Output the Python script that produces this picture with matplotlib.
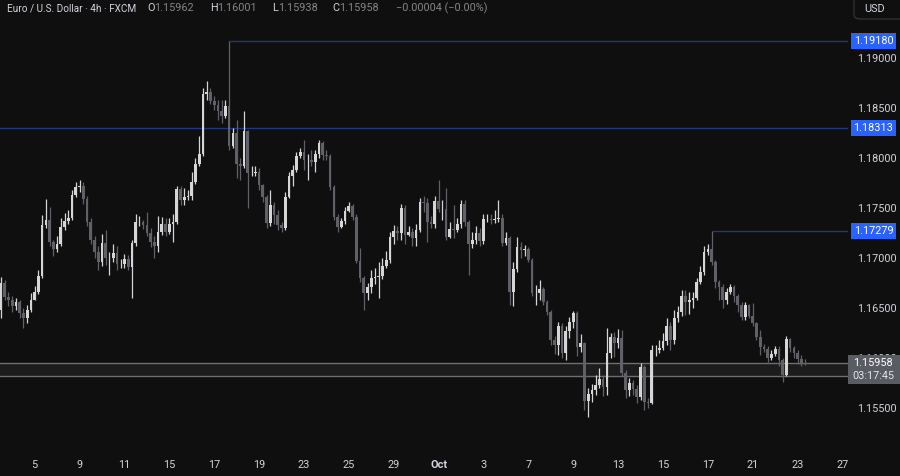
import matplotlib
matplotlib.use("Agg")
import matplotlib.pyplot as plt
import matplotlib.transforms as mtransforms
from matplotlib.patches import Rectangle, FancyBboxPatch
import numpy as np

plt.rcParams['font.family'] = ['Roboto', 'DejaVu Sans']

# ---------------- data (EUR/USD 4h, FXCM) ----------------
open_first = 1.1649
closes = [
    1.1676, 1.1662, 1.1659, 1.1653, 1.1657, 1.1646, 1.1641, 1.1649, 1.1659, 1.1667,
    1.1683, 1.1734, 1.1739, 1.1717, 1.1710, 1.1715, 1.1732, 1.1738, 1.1741, 1.1764,
    1.1772, 1.1773, 1.1760, 1.1737, 1.1719, 1.1707, 1.1697, 1.1716, 1.1701, 1.1701,
    1.1706, 1.1695, 1.1695, 1.1700, 1.1692, 1.1716, 1.1737, 1.1737, 1.1734, 1.1726,
    1.1717, 1.1713, 1.1727, 1.1735, 1.1727, 1.1735,
    1.1737, 1.1770, 1.1759, 1.1762, 1.1763, 1.1777, 1.1795, 1.1805, 1.1865, 1.1867,
    1.1858, 1.1854, 1.1848, 1.1843, 1.1853, 1.1813, 1.1826, 1.1795, 1.1793, 1.1828,
    1.1786, 1.1786, 1.1787, 1.1774, 1.1762, 1.1736, 1.1754, 1.1744, 1.1734, 1.1731,
    1.1762, 1.1783, 1.1789, 1.1803, 1.1807, 1.1799, 1.1799, 1.1797, 1.1805, 1.1816,
    1.1804, 1.1803, 1.1772, 1.1742,
    1.1732, 1.1738, 1.1748, 1.1753, 1.1742, 1.1698, 1.1681, 1.1666, 1.1672, 1.1681,
    1.1682, 1.1683, 1.1693, 1.1699, 1.1722, 1.1728, 1.1726, 1.1751, 1.1724, 1.1727,
    1.1721, 1.1729, 1.1757, 1.1756, 1.1737, 1.1735, 1.1758, 1.1750, 1.1750, 1.1722,
    1.1730, 1.1729, 1.1735, 1.1755, 1.1737, 1.1715, 1.1719, 1.1726, 1.1718, 1.1740,
    1.1740, 1.1739, 1.1740, 1.1741,
    1.1716, 1.1721, 1.1667, 1.1690, 1.1712, 1.1709, 1.1710, 1.1699, 1.1666, 1.1666,
    1.1670, 1.1657, 1.1647, 1.1619, 1.1614, 1.1633, 1.1606, 1.1628, 1.1637, 1.1646,
    1.1612, 1.1616, 1.1558, 1.1565, 1.1569, 1.1574, 1.1580, 1.1572, 1.1606, 1.1622,
    1.1616, 1.1621, 1.1586, 1.1569, 1.1576, 1.1570, 1.1562, 1.1592, 1.1557, 1.1556,
    1.1609, 1.1609, 1.1611, 1.1618,
    1.1633, 1.1619, 1.1641, 1.1647, 1.1663, 1.1657, 1.1659, 1.1661, 1.1677, 1.1687,
    1.1707, 1.1710, 1.1697, 1.1677, 1.1672, 1.1659, 1.1667, 1.1672, 1.1663, 1.1654,
    1.1642, 1.1654, 1.1643, 1.1636, 1.1622, 1.1612, 1.1610, 1.1601, 1.1605, 1.1610,
    1.1599, 1.1584, 1.1620, 1.1611, 1.1606, 1.1600, 1.15962, 1.15958,
]
highs = [
    1.1682, 1.1679, 1.1667, 1.1663, 1.1661, 1.1659, 1.1651, 1.1654, 1.1666, 1.1673,
    1.1689, 1.1744, 1.1760, 1.1752, 1.1719, 1.1723, 1.1741, 1.1746, 1.1749, 1.1769,
    1.1777, 1.1779, 1.1777, 1.1763, 1.1741, 1.1723, 1.1713, 1.1725, 1.1729, 1.1707,
    1.1715, 1.1713, 1.1700, 1.1705, 1.1704, 1.1719, 1.1745, 1.1743, 1.1739, 1.1747,
    1.1731, 1.1723, 1.1743, 1.1742, 1.1741, 1.1741,
    1.1745, 1.1773, 1.1773, 1.1771, 1.1769, 1.1787, 1.1801, 1.1823, 1.1871, 1.1878,
    1.1871, 1.1863, 1.1859, 1.1859, 1.1859, 1.1918, 1.1831, 1.1839, 1.1801, 1.1848,
    1.1829, 1.1793, 1.1793, 1.1791, 1.1775, 1.1764, 1.1769, 1.1757, 1.1749, 1.1737,
    1.1767, 1.1787, 1.1794, 1.1807, 1.1811, 1.1819, 1.1805, 1.1809, 1.1809, 1.1819,
    1.1818, 1.1809, 1.1805, 1.1774,
    1.1745, 1.1741, 1.1752, 1.1757, 1.1755, 1.1745, 1.1711, 1.1683, 1.1676, 1.1689,
    1.1691, 1.1697, 1.1701, 1.1708, 1.1727, 1.1734, 1.1733, 1.1755, 1.1754, 1.1733,
    1.1731, 1.1735, 1.1761, 1.1763, 1.1761, 1.1743, 1.1763, 1.1779, 1.1759, 1.1771,
    1.1737, 1.1754, 1.1741, 1.1759, 1.1759, 1.1739, 1.1727, 1.1733, 1.1731, 1.1745,
    1.1745, 1.1745, 1.1749, 1.1759,
    1.1745, 1.1727, 1.1723, 1.1697, 1.1722, 1.1717, 1.1714, 1.1712, 1.1701, 1.1674,
    1.1679, 1.1672, 1.1659, 1.1649, 1.1623, 1.1637, 1.1636, 1.1633, 1.1642, 1.1648,
    1.1648, 1.1625, 1.1617, 1.1571, 1.1575, 1.1584, 1.1591, 1.1584, 1.1631, 1.1626,
    1.1627, 1.1630, 1.1629, 1.1589, 1.1581, 1.1579, 1.1574, 1.1596, 1.1594, 1.1561,
    1.1614, 1.1614, 1.1619, 1.1626,
    1.1641, 1.1637, 1.1649, 1.1653, 1.1669, 1.1669, 1.1667, 1.1667, 1.1681, 1.1693,
    1.1713, 1.1715, 1.17279, 1.1699, 1.1679, 1.1675, 1.1671, 1.1675, 1.1674, 1.1665,
    1.1657, 1.1657, 1.1655, 1.1656, 1.1637, 1.1629, 1.1615, 1.1613, 1.1609, 1.1613,
    1.1613, 1.1601, 1.1623, 1.1621, 1.1613, 1.1609, 1.1604, 1.16001,
]
lows = [
    1.1641, 1.1659, 1.1653, 1.1647, 1.1649, 1.1641, 1.1631, 1.1636, 1.1647, 1.1659,
    1.1665, 1.1681, 1.1731, 1.1713, 1.1703, 1.1707, 1.1713, 1.1729, 1.1735, 1.1739,
    1.1762, 1.1767, 1.1755, 1.1733, 1.1715, 1.1701, 1.1689, 1.1693, 1.1694, 1.1684,
    1.1697, 1.1689, 1.1691, 1.1691, 1.1689, 1.1661, 1.1713, 1.1733, 1.1730, 1.1723,
    1.1712, 1.1701, 1.1707, 1.1724, 1.1723, 1.1725,
    1.1717, 1.1735, 1.1754, 1.1754, 1.1759, 1.1759, 1.1775, 1.1793, 1.1803, 1.1859,
    1.1855, 1.1849, 1.1839, 1.1836, 1.1841, 1.1809, 1.1811, 1.1781, 1.1779, 1.1791,
    1.1751, 1.1783, 1.1783, 1.1769, 1.1757, 1.1731, 1.1733, 1.1735, 1.1729, 1.1727,
    1.1729, 1.1761, 1.1773, 1.1787, 1.1801, 1.1789, 1.1779, 1.1793, 1.1787, 1.1801,
    1.1799, 1.1799, 1.1769, 1.1739,
    1.1727, 1.1731, 1.1735, 1.1747, 1.1739, 1.1696, 1.1677, 1.1649, 1.1659, 1.1666,
    1.1675, 1.1661, 1.1680, 1.1691, 1.1696, 1.1715, 1.1719, 1.1719, 1.1715, 1.1723,
    1.1713, 1.1713, 1.1727, 1.1747, 1.1717, 1.1731, 1.1731, 1.1747, 1.1739, 1.1719,
    1.1721, 1.1721, 1.1727, 1.1731, 1.1733, 1.1684, 1.1711, 1.1715, 1.1713, 1.1715,
    1.1737, 1.1735, 1.1736, 1.1737,
    1.1713, 1.1714, 1.1654, 1.1653, 1.1687, 1.1701, 1.1703, 1.1697, 1.1663, 1.1654,
    1.1659, 1.1654, 1.1644, 1.1614, 1.1605, 1.1604, 1.1601, 1.1599, 1.1621, 1.1631,
    1.1603, 1.1607, 1.1549, 1.1542, 1.1557, 1.1564, 1.1571, 1.1563, 1.1564, 1.1601,
    1.1602, 1.1611, 1.1583, 1.1561, 1.1563, 1.1564, 1.1556, 1.1559, 1.1549, 1.1551,
    1.1555, 1.1603, 1.1606, 1.1609,
    1.1614, 1.1609, 1.1615, 1.1637, 1.1643, 1.1644, 1.1645, 1.1651, 1.1659, 1.1675,
    1.1684, 1.1704, 1.1694, 1.1671, 1.1659, 1.1651, 1.1655, 1.1665, 1.1657, 1.1647,
    1.1639, 1.1639, 1.1641, 1.1633, 1.1619, 1.1604, 1.1607, 1.1597, 1.1599, 1.1603,
    1.1593, 1.1577, 1.1583, 1.1607, 1.1601, 1.1595, 1.1593, 1.15938,
]

date_labels = ["5", "9", "11", "15", "17", "19", "23", "25", "29", "Oct",
               "3", "7", "9", "13", "15", "17", "21", "23", "27"]
first_label_bar = 9
bars_per_label = 12

price_ticks = [1.19, 1.185, 1.18, 1.175, 1.17, 1.165, 1.16, 1.155]
level_prices = [1.19180, 1.18313, 1.17279]
zone_low = 1.15827
last_open, last_high, last_low, last_close = 1.15962, 1.16001, 1.15938, 1.15958
countdown = "03:17:45"

# ---------------- style ----------------
BG = '#0f0f0f'
UP = '#d6d6d6'
DOWN = '#5f6068'
LEVEL = '#22377a'
LABEL_BLUE = '#2962ff'
TXT = '#d1d4dc'
W, H = 900, 476

fig = plt.figure(figsize=(9, 4.76), dpi=100, facecolor=BG)
ax = fig.add_axes([0, 28 / H, 848 / W, 448 / H])
ax.set_facecolor(BG)
bar_px = 3.74
x0 = -1 / bar_px
ax.set_xlim(x0, x0 + 848 / bar_px)
ax.set_ylim(1.1511, 1.1959)
ax.axis('off')

c = np.array(closes)
h = np.array(highs)
l = np.array(lows)
o = np.concatenate([[open_first], c[:-1]])
n = len(c)
x = np.arange(n)
up = c >= o
cols = np.where(up, UP, DOWN)

# zone (band) under the candles
xl = ax.get_xlim()
ax.add_patch(Rectangle((xl[0], zone_low), xl[1] - xl[0], last_close - zone_low,
                       facecolor='#1c1c1c', edgecolor='none', zorder=1))
ax.axhline(last_close, color='#6e6e6e', lw=1, zorder=2)
ax.axhline(zone_low, color='#6e6e6e', lw=1, zorder=2)

# level lines
for lv in level_prices:
    if lv in highs:
        start = highs.index(lv)
        ax.plot([start, xl[1]], [lv, lv], color=LEVEL, lw=1, zorder=2,
                solid_capstyle='butt')
    else:
        ax.axhline(lv, color=LEVEL, lw=1, zorder=2)

# candles
ax.vlines(x, l, h, colors=cols, lw=0.9, zorder=3)
body_bottom = np.minimum(o, c)
body_h = np.maximum(np.abs(c - o), 0.000012)
ax.bar(x, body_h, bottom=body_bottom, width=0.72, color=cols, linewidth=0, zorder=4)

# ---------------- price axis ----------------
tf = mtransforms.blended_transform_factory(fig.transFigure, ax.transData)
box_top_px = 355
for p in price_ticks:
    t = fig.text(857 / W, p, f"{p:.5f}", transform=tf, color=TXT, fontsize=7.8,
                 ha='left', va='center')
    if abs(p - last_close) < 0.0008:
        # partly hidden behind the current-price box, as in the reference
        t.set_clip_box(mtransforms.Bbox.from_extents(840, H - box_top_px, W, H))
        t.set_clip_on(True)

for lv in level_prices:
    fig.text(873.5 / W, lv, f"{lv:.5f}", transform=tf, color='white', fontsize=7.8,
             ha='center', va='center',
             bbox=dict(boxstyle='square,pad=0.28', facecolor=LABEL_BLUE, edgecolor='none'))

# current price box
fig.patches.append(Rectangle((848 / W, 1 - 384 / H), 52 / W, 29 / H, transform=fig.transFigure,
                             facecolor='#5a5c63', edgecolor='none', zorder=5))
fig.text(873 / W, 1 - 362.5 / H, f"{last_close:.5f}", color='white', fontsize=7.8,
         ha='center', va='center', zorder=6)
fig.text(873 / W, 1 - 376 / H, countdown, color='#e6e6e6', fontsize=7.8,
         ha='center', va='center', zorder=6)

# USD box
fig.patches.append(FancyBboxPatch((854 / W, 1 - 19 / H), 60 / W, 30 / H,
                                  boxstyle='round,pad=0,rounding_size=0.008',
                                  transform=fig.transFigure, facecolor=BG,
                                  edgecolor='#3a3a3a', lw=0.8))
fig.text(864 / W, 1 - 9 / H, "USD", color=TXT, fontsize=7.8, ha='left', va='center')

# ---------------- date axis ----------------
tdate = mtransforms.blended_transform_factory(ax.transData, fig.transFigure)
for k, lab in enumerate(date_labels):
    fig.text(first_label_bar + bars_per_label * k, 1 - 465 / H, lab, transform=tdate,
             color=TXT, fontsize=7.8, ha='center', va='center',
             fontweight='bold' if lab == 'Oct' else 'normal')

# ---------------- header ----------------
change = last_close - last_open
pct = change / last_open * 100
GREY = '#858585'
header = [
    (7, "Euro / U.S. Dollar · 4h · FXCM", TXT, 7.2),
    (147, "O", TXT, 7.8), (154, f"{last_open:.5f}", GREY, 7.8),
    (210, "H", TXT, 7.8), (217, f"{last_high:.5f}", GREY, 7.8),
    (272, "L", TXT, 7.8), (278, f"{last_low:.5f}", GREY, 7.8),
    (332, "C", TXT, 7.8), (339, f"{last_close:.5f}", GREY, 7.8),
    (396, f"\u2212{abs(change):.5f} (\u2212{abs(pct):.2f}%)", GREY, 7.8),
]
for xp, s, col, fs in header:
    fig.text(xp / W, 1 - 8 / H, s, color=col, fontsize=fs, ha='left', va='center')

fig.savefig("out.png", dpi=100, facecolor=BG)
